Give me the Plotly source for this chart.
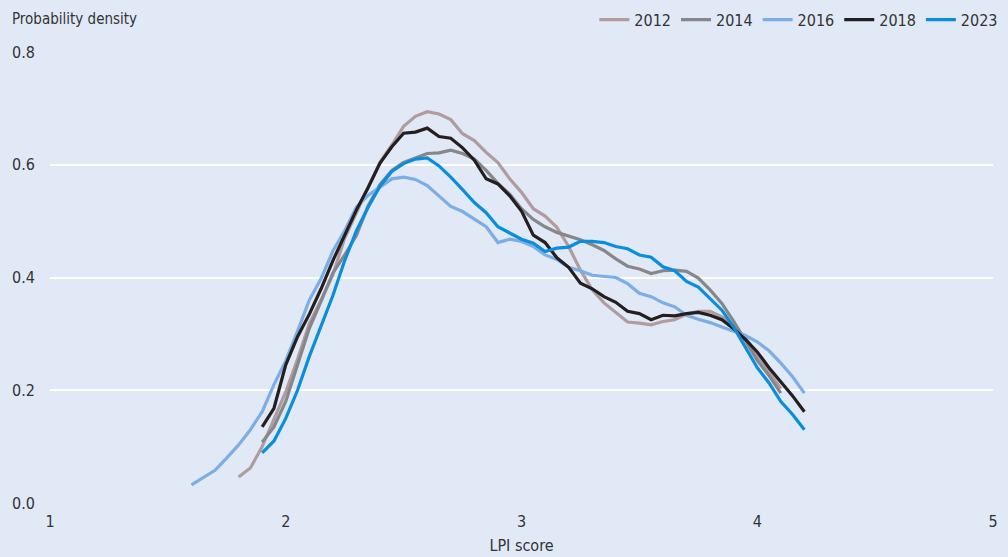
import plotly.graph_objects as go
import numpy as np

x_2012 = [round(1.80 + 0.05 * i, 2) for i in range(47)]
y_2012 = [0.046, 0.062, 0.100, 0.150, 0.197, 0.255, 0.318, 0.360, 0.405, 0.470,
          0.515, 0.563, 0.605, 0.635, 0.668, 0.686, 0.694, 0.690, 0.680, 0.655,
          0.643, 0.622, 0.604, 0.575, 0.551, 0.522, 0.509, 0.489, 0.455, 0.413,
          0.378, 0.355, 0.338, 0.321, 0.319, 0.316, 0.322, 0.325, 0.335, 0.340,
          0.340, 0.330, 0.315, 0.293, 0.262, 0.232, 0.203]

x_2014 = [round(1.90 + 0.05 * i, 2) for i in range(45)]
y_2014 = [0.108, 0.135, 0.180, 0.245, 0.310, 0.358, 0.408, 0.440, 0.475, 0.528,
          0.565, 0.590, 0.604, 0.612, 0.620, 0.621, 0.626, 0.620, 0.610, 0.590,
          0.567, 0.548, 0.522, 0.503, 0.490, 0.480, 0.474, 0.467, 0.458, 0.448,
          0.433, 0.420, 0.415, 0.407, 0.412, 0.413, 0.411, 0.399, 0.378, 0.354,
          0.322, 0.287, 0.253, 0.226, 0.195]

x_2016 = [round(1.60 + 0.05 * i, 2) for i in range(53)]
y_2016 = [0.032, 0.045, 0.058, 0.080, 0.103, 0.130, 0.162, 0.210, 0.252, 0.305,
          0.360, 0.398, 0.447, 0.483, 0.525, 0.546, 0.561, 0.575, 0.578, 0.574,
          0.563, 0.545, 0.526, 0.517, 0.503, 0.490, 0.462, 0.468, 0.464, 0.455,
          0.440, 0.432, 0.418, 0.412, 0.404, 0.402, 0.400, 0.389, 0.372, 0.366,
          0.355, 0.348, 0.333, 0.326, 0.320, 0.312, 0.305, 0.297, 0.286, 0.270,
          0.248, 0.224, 0.195]

x_2018 = [round(1.90 + 0.05 * i, 2) for i in range(47)]
y_2018 = [0.135, 0.168, 0.245, 0.295, 0.335, 0.380, 0.430, 0.475, 0.520, 0.560,
          0.603, 0.632, 0.656, 0.658, 0.665, 0.650, 0.647, 0.630, 0.608, 0.575,
          0.566, 0.545, 0.518, 0.475, 0.462, 0.435, 0.418, 0.390, 0.380, 0.366,
          0.356, 0.340, 0.336, 0.325, 0.333, 0.332, 0.336, 0.338, 0.333, 0.325,
          0.309, 0.290, 0.268, 0.240, 0.215, 0.190, 0.162]

x_2023 = [round(1.90 + 0.05 * i, 2) for i in range(47)]
y_2023 = [0.089, 0.110, 0.150, 0.200, 0.260, 0.315, 0.368, 0.430, 0.483, 0.525,
          0.562, 0.588, 0.602, 0.610, 0.612, 0.598, 0.578, 0.556, 0.533, 0.515,
          0.490, 0.479, 0.468, 0.461, 0.446, 0.452, 0.454, 0.464, 0.464, 0.462,
          0.455, 0.451, 0.440, 0.436, 0.419, 0.412, 0.393, 0.383, 0.362, 0.342,
          0.312, 0.277, 0.240, 0.213, 0.180, 0.157, 0.130]

series = [
    ("2012", x_2012, y_2012, "#b09b9f"),
    ("2014", x_2014, y_2014, "#86878a"),
    ("2016", x_2016, y_2016, "#7cade6"),
    ("2018", x_2018, y_2018, "#231f20"),
    ("2023", x_2023, y_2023, "#0a8edb"),
]

x_ticks = [1, 2, 3, 4, 5]
y_ticks = [0.0, 0.2, 0.4, 0.6, 0.8]
y_tick_labels = ["0.0", "0.2", "0.4", "0.6", "0.8"]

FONT = "DejaVu Sans Condensed, Roboto, sans-serif"
FS = 16
BG = "#e1e9f6"
TXT = "#333333"

fig = go.Figure()
for name, xs, ys, col in series:
    fig.add_trace(go.Scatter(x=xs, y=ys, mode="lines", name=name,
                             line=dict(color=col, width=3.2)))

fig.update_layout(
    width=1008, height=557,
    paper_bgcolor=BG, plot_bgcolor=BG,
    margin=dict(l=50, r=15, t=52, b=54, autoexpand=False),
    font=dict(family=FONT, size=FS, color=TXT),
    showlegend=True,
    legend=dict(orientation="h", xref="paper", x=1.011, xanchor="right",
                yref="container", y=0.995, yanchor="top",
                font=dict(family=FONT, size=FS, color=TXT),
                bgcolor="rgba(0,0,0,0)", itemwidth=30,
                traceorder="normal"),
    xaxis=dict(range=[1, 5], tickvals=x_ticks, showgrid=False, zeroline=False,
               showline=False, ticks="", ticklabelstandoff=7,
               tickfont=dict(size=FS, color=TXT),
               title=dict(text="LPI score", font=dict(size=FS, color=TXT), standoff=9)),
    yaxis=dict(range=[0, 0.8], tickvals=y_ticks, ticktext=y_tick_labels,
               showgrid=True, gridcolor="white", gridwidth=2, zeroline=False,
               showline=False, ticks="", ticklabelstandoff=14,
               tickfont=dict(size=FS, color=TXT)),
    annotations=[dict(text="Probability density", xref="paper", yref="paper",
                      x=0, xanchor="left", xshift=-40, y=1.073, yanchor="middle",
                      showarrow=False, font=dict(family=FONT, size=15, color=TXT))],
)

fig.write_html("out.html", config={"displayModeBar": False},
               post_script="document.body.style.margin='0';")
